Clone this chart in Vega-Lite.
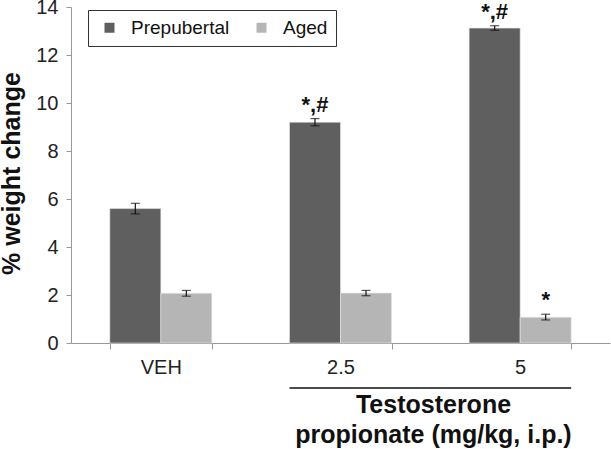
{
  "$schema": "https://vega.github.io/schema/vega-lite/v6.json",
  "width": 539,
  "height": 336,
  "autosize": {"type": "none"},
  "padding": {"left": 71, "top": 7, "right": 1, "bottom": 106},
  "background": "white",
  "config": {
    "view": {"stroke": null},
    "font": "Liberation Sans",
    "axis": {"labelFont": "Liberation Sans", "titleFont": "Liberation Sans"}
  },
  "data": {
    "values": [
      {"cat": "VEH", "group": "Prepubertal", "value": 5.6, "lo": 5.38, "hi": 5.82, "label": ""},
      {"cat": "VEH", "group": "Aged", "value": 2.07, "lo": 1.95, "hi": 2.19, "label": ""},
      {"cat": "2.5", "group": "Prepubertal", "value": 9.2, "lo": 9.05, "hi": 9.35, "label": "*,#"},
      {"cat": "2.5", "group": "Aged", "value": 2.08, "lo": 1.97, "hi": 2.19, "label": ""},
      {"cat": "5", "group": "Prepubertal", "value": 13.12, "lo": 13.03, "hi": 13.22, "label": "*,#"},
      {"cat": "5", "group": "Aged", "value": 1.07, "lo": 0.96, "hi": 1.2, "label": "*"}
    ]
  },
  "encoding": {
    "x": {
      "field": "cat", "type": "nominal",
      "scale": {"domain": ["VEH", "2.5", "5"], "paddingInner": 0.432, "paddingOuter": 0.216},
      "axis": {
        "title": ["Testosterone", "propionate (mg/kg, i.p.)"],
        "titleFontSize": 25, "titleFontWeight": "bold", "titleColor": "#111",
        "titleX": 362, "titleY": 49, "titleAlign": "center", "titleBaseline": "top",
        "titleAnchor": null, "titleLineHeight": 30,
        "labelAngle": 0, "labelFontSize": 20, "labelColor": "#222", "labelPadding": 8,
        "tickBand": "extent", "tickSize": 6, "tickColor": "#999", "domainColor": "#999",
        "grid": false
      }
    },
    "xOffset": {"field": "group", "type": "nominal", "scale": {"domain": ["Prepubertal", "Aged"], "paddingInner": 0, "paddingOuter": 0}}
  },
  "layer": [
    {
      "mark": {"type": "bar", "stroke": "#e8e8e8", "strokeWidth": 0.6},
      "encoding": {
        "y": {
          "field": "value", "type": "quantitative",
          "scale": {"domain": [0, 14], "nice": false},
          "axis": {
            "title": "% weight change", "titleFontSize": 25, "titleFontWeight": "bold", "titleColor": "#111",
            "titleX": -60, "titleY": 166, "titleAlign": "center", "titleBaseline": "middle", "titleAngle": -90,
            "values": [0, 2, 4, 6, 8, 10, 12, 14],
            "labelFontSize": 20, "labelColor": "#222", "labelPadding": 8,
            "tickSize": 5, "tickColor": "#999", "domainColor": "#999", "grid": false
          }
        },
        "color": {
          "field": "group", "type": "nominal",
          "scale": {"domain": ["Prepubertal", "Aged"], "range": ["#5f5f5f", "#b4b5b4"]},
          "legend": {
            "title": null, "orient": "none", "legendX": 17, "legendY": 3, "direction": "horizontal",
            "strokeColor": "#333", "padding": 8, "fillColor": "white",
            "symbolType": "square", "symbolSize": 100, "symbolStrokeWidth": 0,
            "labelFontSize": 19, "labelColor": "#111", "labelOffset": 12, "columnPadding": 18,
            "symbolOffset": 4
          }
        }
      }
    },
    {
      "mark": {"type": "rule", "color": "#111", "strokeWidth": 1.2},
      "encoding": {
        "y": {"field": "lo", "type": "quantitative"},
        "y2": {"field": "hi"}
      }
    },
    {
      "mark": {"type": "tick", "color": "#111", "size": 9, "thickness": 1.2, "orient": "horizontal"},
      "encoding": {"y": {"field": "lo", "type": "quantitative"}}
    },
    {
      "mark": {"type": "tick", "color": "#111", "size": 9, "thickness": 1.2, "orient": "horizontal"},
      "encoding": {"y": {"field": "hi", "type": "quantitative"}}
    },
    {
      "mark": {"type": "text", "fontSize": 22, "fontWeight": "bold", "color": "#111", "baseline": "middle", "dy": -14},
      "encoding": {
        "y": {"field": "hi", "type": "quantitative"},
        "text": {"field": "label"}
      }
    },
    {
      "data": {"values": [{"a": "2.5", "b": "5", "level": -1.875}]},
      "mark": {"type": "rule", "color": "#111", "strokeWidth": 1.3, "xOffset": -51, "x2Offset": 51, "clip": false},
      "encoding": {
        "x": {"field": "a", "type": "nominal"},
        "x2": {"field": "b"},
        "xOffset": null,
        "y": {"field": "level", "type": "quantitative"}
      }
    }
  ]
}
